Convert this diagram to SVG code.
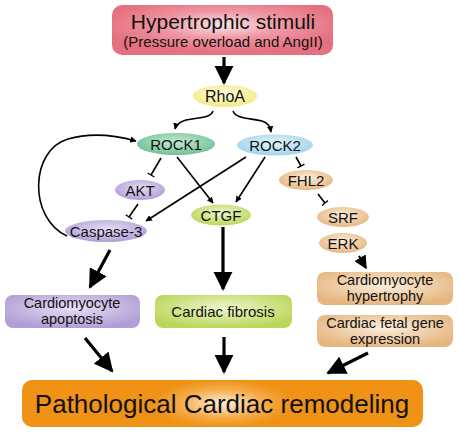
<svg xmlns="http://www.w3.org/2000/svg" width="458" height="433" viewBox="0 0 458 433">
<defs>
<radialGradient id="gPink" cx="50%" cy="40%" r="55%"><stop offset="0" stop-color="#fbe3e6"/><stop offset="0.5" stop-color="#ef97a3"/><stop offset="1" stop-color="#e5707f"/></radialGradient>
<radialGradient id="gYel" cx="50%" cy="40%" r="55%"><stop offset="0" stop-color="#fffbe0"/><stop offset="1" stop-color="#f3eb8c"/></radialGradient>
<radialGradient id="gGreen" cx="50%" cy="40%" r="60%"><stop offset="0" stop-color="#c6e9d6"/><stop offset="1" stop-color="#6fc194"/></radialGradient>
<radialGradient id="gBlue" cx="50%" cy="40%" r="60%"><stop offset="0" stop-color="#e3f4fb"/><stop offset="1" stop-color="#9fd3ea"/></radialGradient>
<radialGradient id="gPurp" cx="50%" cy="40%" r="60%"><stop offset="0" stop-color="#e6def4"/><stop offset="1" stop-color="#b09fd6"/></radialGradient>
<radialGradient id="gLime" cx="50%" cy="40%" r="60%"><stop offset="0" stop-color="#eef6cf"/><stop offset="1" stop-color="#bcd65a"/></radialGradient>
<radialGradient id="gTan" cx="50%" cy="40%" r="60%"><stop offset="0" stop-color="#fbeedd"/><stop offset="1" stop-color="#e6b680"/></radialGradient>
<radialGradient id="gOrange" cx="50%" cy="50%" r="50%" gradientTransform="translate(0.5 0.5) scale(0.35 1) translate(-0.5 -0.5)"><stop offset="0" stop-color="#fdf0dc"/><stop offset="0.6" stop-color="#f5ac4a"/><stop offset="1" stop-color="#ef9215"/></radialGradient>
<marker id="ah" viewBox="0 0 10 10" refX="9" refY="5" markerWidth="4" markerHeight="4" orient="auto" markerUnits="strokeWidth"><path d="M0,0 L10,5 L0,10 z" fill="#000"/></marker>
<marker id="ahT" viewBox="0 0 10 10" refX="9" refY="5" markerWidth="6" markerHeight="6" orient="auto" markerUnits="strokeWidth"><path d="M0,0 L10,5 L0,10 z" fill="#000"/></marker>
<marker id="tb" viewBox="0 0 4 12" refX="2" refY="6" markerWidth="4" markerHeight="8" orient="auto" markerUnits="userSpaceOnUse"><path d="M2,0 L2,12" stroke="#000" stroke-width="2"/></marker>
</defs>
<style>
text{font-family:"Liberation Sans",Arial,sans-serif;fill:#111;text-anchor:middle}
.n{font-size:15px}
.b{font-size:14.5px}
.thin{fill:none;stroke:#000;stroke-width:1.6}
.thick{fill:none;stroke:#000;stroke-width:3.2}
</style>
<g id="connectors">
<path class="thick" d="M224,57 L224,83" marker-end="url(#ahT)"/>
<path class="thin" d="M213,111 C210,119 198,117 186,120 C179,122 176,125 175,129" marker-end="url(#ah)"/>
<path class="thin" d="M233,111 C236,119 250,118 262,121 C268,123 270,126 271,132" marker-end="url(#ah)"/>
<path class="thin" d="M161,158 L151,175" marker-end="url(#tb)"/>
<path class="thin" d="M138,204 L129,217" marker-end="url(#tb)"/>
<path class="thin" d="M177,157 L213,203" marker-end="url(#ah)"/>
<path class="thin" d="M246,157 L146,221" marker-end="url(#ah)"/>
<path class="thin" d="M265,157 L236,202" marker-end="url(#ah)"/>
<path class="thin" d="M296,157 L301,166" marker-end="url(#tb)"/>
<path class="thin" d="M318,194 L325,203" marker-end="url(#tb)"/>
<path class="thin" d="M67,236 C28,218 30,150 68,139 C92,132 118,136 136,141" marker-end="url(#ah)"/>
<path class="thick" d="M359,256 L366,268" marker-end="url(#ahT)" style="stroke-width:2.2"/>
<path class="thick" d="M110,250 L90,287" marker-end="url(#ahT)"/>
<path class="thick" d="M223,227 L223,289" marker-end="url(#ahT)"/>
<path class="thick" d="M85,338 L112,371" marker-end="url(#ahT)"/>
<path class="thick" d="M224,337 L224,372" marker-end="url(#ahT)"/>
<path class="thick" d="M368,353 L328,373" marker-end="url(#ahT)"/>
</g>
<g id="stimuli">
<rect x="112" y="5" width="221" height="50" rx="10" fill="url(#gPink)"/>
<text x="223" y="29" style="font-size:21px">Hypertrophic stimuli</text>
<text x="223" y="47" style="font-size:15px">(Pressure overload and AngII)</text>
</g>
<g id="rhoa"><ellipse cx="225" cy="96" rx="32" ry="11" fill="url(#gYel)"/><text x="225" y="102" style="font-size:16px">RhoA</text></g>
<g id="rock1"><ellipse cx="176" cy="144" rx="39" ry="11" fill="url(#gGreen)"/><text class="n" x="176" y="149.5">ROCK1</text></g>
<g id="rock2"><ellipse cx="275" cy="145" rx="38" ry="10.5" fill="url(#gBlue)"/><text class="n" x="275" y="150.5">ROCK2</text></g>
<g id="akt"><ellipse cx="140" cy="190" rx="25" ry="10" fill="url(#gPurp)"/><text class="n" x="140" y="195.5">AKT</text></g>
<g id="caspase3"><ellipse cx="106" cy="231" rx="41" ry="11" fill="url(#gPurp)"/><text class="n" x="106" y="236.5">Caspase-3</text></g>
<g id="ctgf"><ellipse cx="221" cy="215" rx="30" ry="10.5" fill="url(#gLime)"/><text class="n" x="221" y="220.5">CTGF</text></g>
<g id="fhl2"><ellipse cx="306" cy="180" rx="27" ry="10" fill="url(#gTan)"/><text class="n" x="306" y="185.5">FHL2</text></g>
<g id="srf"><ellipse cx="343" cy="217" rx="26" ry="10" fill="url(#gTan)"/><text class="n" x="343" y="222.5">SRF</text></g>
<g id="erk"><ellipse cx="343" cy="243" rx="24" ry="10" fill="url(#gTan)"/><text class="n" x="343" y="248.5">ERK</text></g>
<g id="hypertrophy"><rect x="317" y="272" width="136" height="33" rx="8" fill="url(#gTan)"/><text class="b" x="385" y="285">Cardiomyocyte</text><text class="b" x="385" y="301">hypertrophy</text></g>
<g id="fetal"><rect x="317" y="315" width="136" height="32" rx="8" fill="url(#gTan)"/><text class="b" x="385" y="328">Cardiac fetal gene</text><text class="b" x="385" y="344">expression</text></g>
<g id="apoptosis"><rect x="5" y="295" width="135" height="33" rx="8" fill="url(#gPurp)"/><text class="b" x="72" y="308">Cardiomyocyte</text><text class="b" x="72" y="324">apoptosis</text></g>
<g id="fibrosis"><rect x="155" y="295" width="137" height="33" rx="8" fill="url(#gLime)"/><text class="n" x="223" y="317">Cardiac fibrosis</text></g>
<g id="remodeling"><rect x="22" y="380" width="401" height="47" rx="10" fill="url(#gOrange)"/><text x="222" y="413" style="font-size:26px">Pathological Cardiac remodeling</text></g>
</svg>
